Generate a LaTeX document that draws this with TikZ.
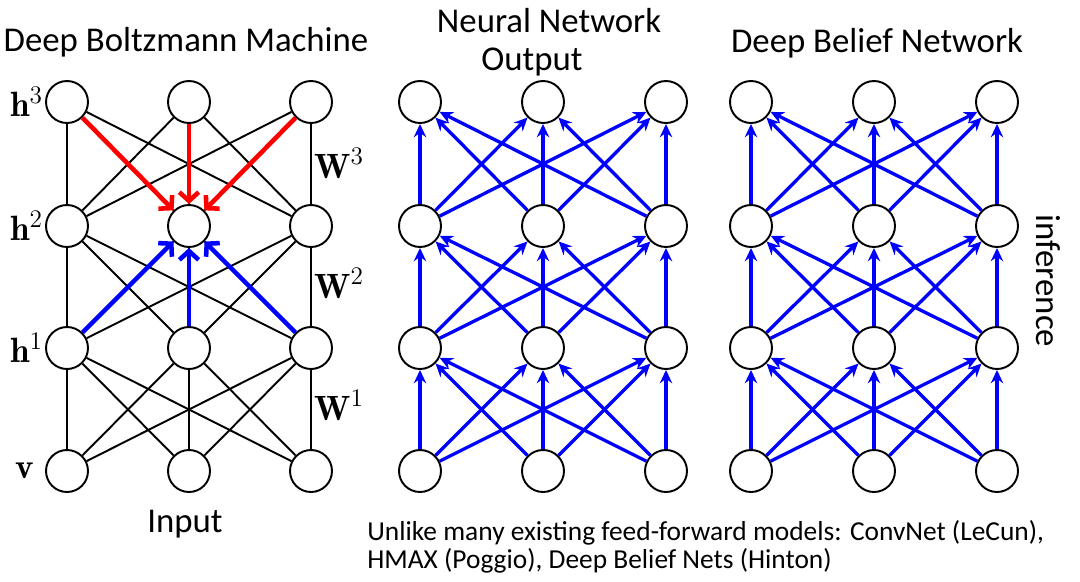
\documentclass[tikz,border=0pt]{standalone}
\usepackage{fontspec}
\usetikzlibrary{arrows.meta,positioning}
\newfontfamily\calib{Carlito}
\tikzset{
  neuron/.style={circle,draw,line width=1.1pt,minimum size=0.84cm,inner sep=0pt,fill=white},
  heading/.style={font=\calib\fontsize{19.8}{22}\selectfont,anchor=base,inner sep=0pt},
  note/.style={heading,font=\calib\fontsize{15.6}{17}\selectfont,anchor=base west},
  sym/.style={font=\fontsize{20}{22}\selectfont,inner sep=0pt},
  bond/.style={line width=1.1pt},
  ff/.style={draw=blue,line width=1.9pt,-{Stealth[length=7.5pt,width=7pt]}},
  topdown/.style={draw=red,line width=2.6pt,-{Straight Barb[length=5pt,width=11pt]}},
  bottomup/.style={topdown,draw=blue},
}
\begin{document}
\begin{tikzpicture}[x=0.02cm,y=-0.02cm]
  \useasboundingbox (0,0) rectangle (1080,582);
  % three stacks of units: DBM, feed-forward net, DBN
  \foreach \l/\y in {0/471,1/348,2/226,3/102}
    \foreach \c/\xd/\xn/\xb in {1/67/420/751,2/189/543/874,3/311/666/997}{
      \node[neuron] (D\l\c) at (\xd,\y) {};
      \node[neuron] (N\l\c) at (\xn,\y) {};
      \node[neuron] (B\l\c) at (\xb,\y) {};
    }
  \foreach \l/\u in {0/1,1/2,2/3}
    \foreach \i in {1,2,3}
      \foreach \j in {1,2,3}{
        \draw[bond] (D\l\i) -- (D\u\j);
        \draw[ff] (N\l\i) -- (N\u\j);
        \draw[ff] (B\l\i) -- (B\u\j);
      }
  \foreach \i in {1,2,3}{
    \draw[topdown] (D3\i) -- (D22);
    \draw[bottomup] (D1\i) -- (D22);
  }
  \node[sym,left=1pt of D31] (lh3) {$\mathbf{h}^3$};
  \node[sym,left=1pt of D21] (lh2) {$\mathbf{h}^2$};
  \node[sym,left=1pt of D11] (lh1) {$\mathbf{h}^1$};
  \node[sym,left=6pt of D01] (lv) {$\mathbf{v}$};
  \node[sym,anchor=base west] (w3) at (314,178) {$\mathbf{W}^3$};
  \node[sym,anchor=base west] (w2) at (314,298) {$\mathbf{W}^2$};
  \node[sym,anchor=base west] (w1) at (314,420) {$\mathbf{W}^1$};

  \node[heading] (tdbm) at (186,51) {Deep Boltzmann Machine};
  \node[heading] (tnn) at (549,32) {Neural Network};
  \node[heading] (tout) at (532,70) {Output};
  \node[heading] (tdbn) at (877,52) {Deep Belief Network};
  \node[heading] (tin) at (185,532) {Input};
  \node[heading,anchor=center,rotate=-90] (inf) at (1048,281) {inference};
  \node[note] (note1) at (367,540) {Unlike many existing feed-forward models: ConvNet (LeCun),};
  \node[note] (note2) at (367,568) {HMAX (Poggio), Deep Belief Nets (Hinton)};
\end{tikzpicture}
\end{document}
